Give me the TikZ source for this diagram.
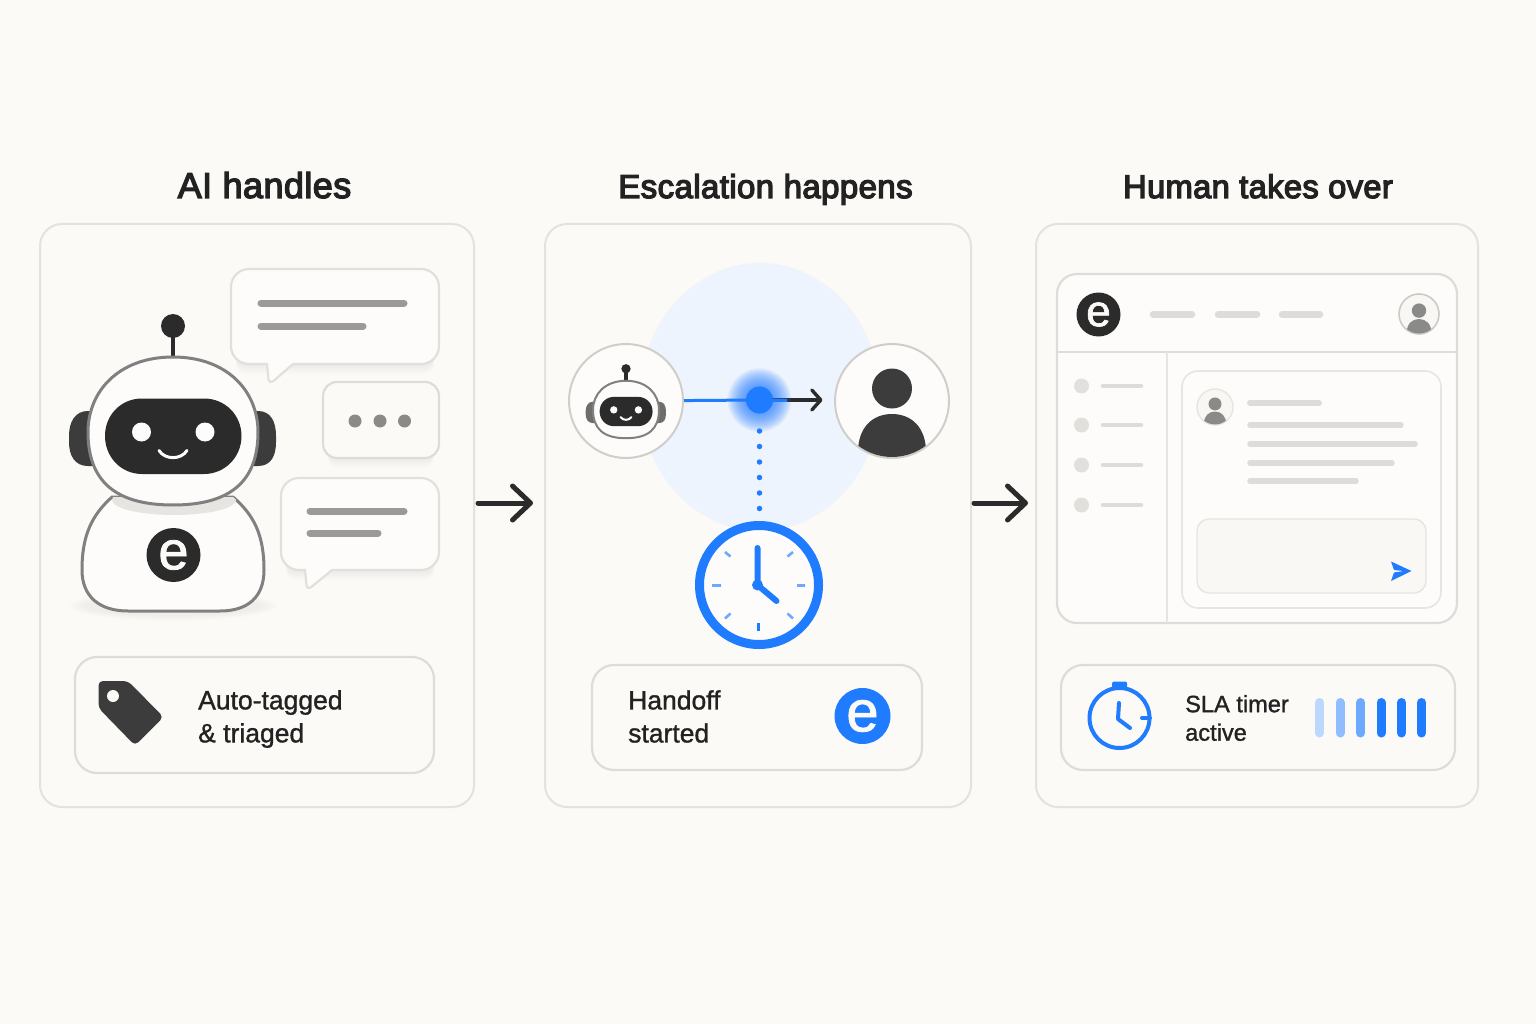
\documentclass[tikz,border=0pt]{standalone}
\usepackage{fontspec}
\setmainfont{Liberation Sans}
\newfontfamily\titlefont[LetterSpace=1.2]{Liberation Sans}
\newcommand{\heft}[2]{\special{pdf:code q 2 Tr #1 w}#2\special{pdf:code Q}}
\usetikzlibrary{arrows.meta,calc}
\definecolor{bg}{HTML}{FBFAF6}
\definecolor{edge}{HTML}{E3E2DE}
\definecolor{soft}{HTML}{DDDCD8}
\definecolor{ink}{HTML}{2B2B2B}
\definecolor{textink}{HTML}{222222}
\definecolor{ink2}{HTML}{3C3C3C}
\definecolor{linegray}{HTML}{9A9A98}
\definecolor{dotgray}{HTML}{8A8A88}
\definecolor{robotline}{HTML}{808080}
\definecolor{blue}{HTML}{1F7CFF}
\definecolor{halo}{HTML}{EEF4FD}
\definecolor{paper}{HTML}{FDFCFA}
\tikzset{
  x=1pt,y=-1pt,
  panel/.style={rectangle,draw=edge,fill=bg,line width=2pt,rounded corners=22pt,inner sep=0pt},
  tagbox/.style={rectangle,draw=soft,fill=bg,line width=2.2pt,rounded corners=22pt,inner sep=0pt},
  title/.style={anchor=base,text=textink},
  caption/.style={anchor=west,align=left,text=textink,inner sep=0pt},
  logo/.style={circle,inner sep=0pt,text=bg},
  ring/.style={circle,draw=#1,fill=paper,line width=2pt,inner sep=0pt},
  bubble/.style={draw=#1,fill=paper,line width=2.2pt},
  bar/.style={line cap=round,line width=7pt,linegray},
  pill/.style={line cap=round,line width=#1,soft},
  flow/.style={line width=5pt,ink,line cap=round,-{Straight Barb[length=18pt,width=34pt,line width=5pt,round]}},
}
\newcommand{\robothead}[2]{%
  \fill[ink] (173,326) circle (12);
  \draw[ink,line width=#1*1.6pt] (173,335) -- (173,358);
  \fill[#2] (100,411) -- (88,411) .. controls (75,411) and (69,422) .. (69,436) -- (69,442) .. controls (69,456) and (75,466) .. (88,466) -- (100,466) -- cycle;
  \fill[#2] (246,411) -- (258,411) .. controls (271,411) and (276,422) .. (276,436) -- (276,442) .. controls (276,456) and (271,466) .. (258,466) -- (246,466) -- cycle;
  \draw[robotline,fill=paper,line width=#1*1pt] (173,357) .. controls (228,357) and (258,392) .. (258,432) .. controls (258,480) and (232,505) .. (173,505) .. controls (114,505) and (88,480) .. (88,432) .. controls (88,392) and (118,357) .. (173,357) -- cycle;
  \fill[ink] (142,398.5) -- (204,398.5) .. controls (225,398.5) and (241.5,415) .. (241.5,436) .. controls (241.5,457) and (225,474) .. (204,474) -- (142,474) .. controls (121,474) and (105,457) .. (105,436) .. controls (105,415) and (121,398.5) .. (142,398.5) -- cycle;
  \fill[paper] (141.5,432) circle (9.5) (205,432) circle (9.5);
  \draw[paper,line width=#1*1pt,line cap=round] (159,450.5) .. controls (165,460) and (181,460) .. (187,450.5);
}
\newcommand{\avatar}[4]{% x y radius colour
  \fill[#4] (#1,#2-0.17*#3) circle (0.36*#3);
  \begin{scope}
    \clip (#1,#2) circle (#3-0.5);
    \fill[#4] (#1-0.62*#3,#2+0.95*#3) .. controls (#1-0.62*#3,#2+0.5*#3) and (#1-0.35*#3,#2+0.25*#3) .. (#1,#2+0.25*#3) .. controls (#1+0.35*#3,#2+0.25*#3) and (#1+0.62*#3,#2+0.5*#3) .. (#1+0.62*#3,#2+0.95*#3) -- (#1+0.62*#3,#2+#3+2) -- (#1-0.62*#3,#2+#3+2) -- cycle;
  \end{scope}
}
% x1 y1 x2 y2 tailRight tipx tipy tailLeft
\newcommand{\speech}[8]{%
  (#1+18,#2) -- (#3-18,#2) .. controls (#3-8,#2) and (#3,#2+8) .. (#3,#2+18) -- (#3,#4-18) .. controls (#3,#4-8) and (#3-8,#4) .. (#3-18,#4) -- (#5,#4) -- (#6+2,#7-1.5) .. controls (#6,#7+0.5) and (#6-3,#7+0.5) .. (#6-3.5,#7-2.5) -- (#8,#4) -- (#1+18,#4) .. controls (#1+8,#4) and (#1,#4-8) .. (#1,#4-18) -- (#1,#2+18) .. controls (#1,#2+8) and (#1+8,#2) .. (#1+18,#2) -- cycle}
\newcommand{\softshadow}[4]{%
  \foreach \d in {2,4,6,8,10}
    \fill[black,opacity=.012,rounded corners=10pt] (#1+5,#4-20) rectangle (#3-5,#4+\d);
}
\begin{document}
\begin{tikzpicture}
\useasboundingbox (0,0) rectangle (1536,1024);
\fill[bg] (0,0) rectangle (1536,1024);

% titles
\node[title,font=\titlefont\fontsize{36}{40}\selectfont] (t1) at (264.5,198) {\heft{1.3}{AI handles}};
\node[title,font=\titlefont\fontsize{33}{40}\selectfont] (t2) at (765.5,198) {\heft{1.3}{Escalation happens}};
\node[title,font=\titlefont\fontsize{32.6}{40}\selectfont] (t3) at (1258,198) {\heft{1.3}{Human takes over}};

% panels
\node[panel,minimum width=434pt,minimum height=583pt] (p1) at (257,515.5) {};
\node[panel,minimum width=426pt,minimum height=583pt] (p2) at (758,515.5) {};
\node[panel,minimum width=442pt,minimum height=583pt] (p3) at (1257,515.5) {};

% arrows between panels
\coordinate (a1s) at ($(p1.east)+(3,-12.5)$);
\coordinate (a1e) at ($(p2.west)+(-11,-12.5)$);
\coordinate (a2s) at ($(p2.east)+(2,-12.5)$);
\coordinate (a2e) at ($(p3.west)+(-7,-12.5)$);
\draw[flow] (a1s) -- (a1e);
\draw[flow] (a2s) -- (a2e);

% --- panel 1: robot
\foreach \k in {0,1,2,3,4,5}
  \fill[black,opacity=.007] (173,606) ellipse [x radius=104-3*\k,y radius=15-\k];
\def\bodypath{(112,497) .. controls (92,515) and (82,535) .. (82,570) .. controls (82,597) and (100,611) .. (128,611) -- (220,611) .. controls (248,611) and (264,597) .. (264,570) .. controls (264,535) and (254,515) .. (233,497) -- cycle}
\draw[robotline,fill=paper,line width=3pt] \bodypath;
\begin{scope}
  \clip \bodypath;
  \fill[soft!70!paper] (174,500) ellipse [x radius=62,y radius=15];
\end{scope}
\robothead{3}{ink2}
\node[logo,fill=ink,minimum size=54pt,font=\fontsize{54}{54}\selectfont] (lg1) at (173.5,555) {\heft{.8}{e}};

% speech bubbles
\softshadow{231}{269}{439}{364}
\softshadow{323}{382}{439}{458}
\softshadow{281}{478}{439}{570}
\draw[bubble=soft!85!bg] \speech{231}{269}{439}{364}{293}{272}{382}{267};
\draw[bar] (261,303) -- (404,303);
\draw[bar] (261,326) -- (363,326);
\node[rectangle,draw=soft,fill=bg,line width=2.2pt,rounded corners=14pt,minimum width=116pt,minimum height=76pt,inner sep=0pt] (b2) at (381,420) {};
\fill[dotgray] (355,421) circle (6.5) (380,421) circle (6.5) (404.5,421) circle (6.5);
\draw[bubble=soft!85!bg] \speech{281}{478}{439}{570}{332}{310}{588}{305};
\draw[bar] (310,511) -- (404,511);
\draw[bar] (310,533) -- (378,533);

% tag box
\node[tagbox,minimum width=359pt,minimum height=116pt] (tb1) at (254.5,715) {};
\fill[ink2,rounded corners=4.5pt] (98.5,681) -- (128,681) -- (163.5,717) -- (135,745.5) -- (98.5,708) -- cycle;
\fill[bg] (113,696) circle (6);
\node[caption,font=\fontsize{26.5}{33}\selectfont] (c1) at (198,719) {\heft{.3}{Auto-tagged}\\\heft{.3}{\& triaged}};

% --- panel 2
\fill[halo] (760,397) ellipse [x radius=120,y radius=134];
\node[ring=soft!85!robotline,minimum size=114pt] (rb) at (626,401) {};
\node[ring=soft!85!robotline,minimum size=114pt] (hm) at (892,401) {};
\begin{scope}[shift={(626,409.5)},scale=.388,shift={(-173,-431)}]
  \robothead{2}{ink2!75!white}
\end{scope}
\fill[ink2] (892,388.5) circle (20);
\begin{scope}
  \clip (892,401) circle (56);
  \fill[ink2] (858,452) .. controls (858,428) and (872,414) .. (892,414) .. controls (912,414) and (926,428) .. (926,452) -- (926,470) -- (858,470) -- cycle;
\end{scope}
\node[circle,fill=blue,inner sep=0pt,minimum size=27pt] (hub) at (759.5,400) {};
\draw[blue,line width=3pt] (rb) -- (hub);
\coordinate (tip) at ($(hm.west)+(-11.5,-1)$);
\draw[ink,line width=3.4pt,line cap=round,-{Straight Barb[length=9pt,width=20pt,line width=3.4pt,round]}] (hub) -- (tip);
\draw[blue,line width=3pt] (hub.center) -- (787,400);
\foreach \r in {32,31,...,14}
  \fill[blue,opacity=.055] (hub.center) circle (\r);
\fill[blue] (hub.center) circle (13);
\node[circle,draw=blue,fill=paper,line width=9pt,minimum size=119pt,inner sep=0pt] (clk) at (759,585) {};
\draw[blue,line width=5.5pt,line cap=round,dash pattern=on 0pt off 15.5pt] (759.5,431) -- (759.5,511);
\draw[blue!65!white,line width=2.6pt]
  (712,585.5) -- (721,585.5) (797,585.5) -- (805,585.5)
  (725,552) -- (730.5,556.5) (793,552) -- (787.5,556.5)
  (725,618.5) -- (730.5,613.5) (793,618.5) -- (787.5,613.5);
\draw[blue,line width=2.6pt] (758.5,623) -- (758.5,631);
\draw[blue,line width=6pt,line cap=round,line join=round] (757.5,548) -- (757.5,585) -- (776.5,601);
\fill[blue] (757.5,585) circle (5.5);

\node[tagbox,minimum width=330pt,minimum height=105pt] (tb2) at (757,717.5) {};
\node[caption,font=\fontsize{26.5}{33}\selectfont] (c2) at (628,716.5) {\heft{.3}{Handoff}\\\heft{.3}{started}};
\node[logo,fill=blue,minimum size=56pt,font=\fontsize{58}{58}\selectfont] (lg2) at (862.5,716) {\heft{.8}{e}};

% --- panel 3
\node[rectangle,draw=soft,fill=paper,line width=2.2pt,rounded corners=20pt,minimum width=400pt,minimum height=349pt,inner sep=0pt] (win) at (1257,448.5) {};
\draw[soft,line width=2pt] (1057,352) -- (1457,352);
\draw[soft!70!paper,line width=1.6pt] (1167,352) -- (1167,623);
\node[logo,fill=ink,minimum size=44pt,font=\fontsize{44}{44}\selectfont] (lg3) at (1098.5,314.5) {\heft{.7}{e}};
\draw[pill=6.5pt] (1153,314.5) -- (1192,314.5);
\draw[pill=6.5pt] (1218,314.5) -- (1257,314.5);
\draw[pill=6.5pt] (1282,314.5) -- (1320,314.5);
\node[circle,draw=soft!80!robotline,fill=bg!90!soft,line width=1.6pt,minimum size=40pt,inner sep=0pt] (av1) at (1419,314) {};
\avatar{1419}{314}{20}{dotgray}
\foreach \yy in {386,425,465,505} {
  \fill[soft!85!bg] (1081.5,\yy) circle (7.5);
  \draw[pill=4.5pt] (1103,\yy) -- (1141,\yy);
}
\node[rectangle,draw=soft!70!bg,fill=paper,line width=1.6pt,rounded corners=16pt,minimum width=259pt,minimum height=237pt,inner sep=0pt] (card) at (1311.5,489.5) {};
\node[circle,draw=soft!70!bg,fill=bg!90!soft,line width=1.4pt,minimum size=36pt,inner sep=0pt] (av2) at (1215,407) {};
\avatar{1215}{407}{18}{dotgray}
\draw[pill=6pt] (1250,403) -- (1319,403);
\draw[pill=5.5pt] (1250,425) -- (1401,425);
\draw[pill=5.5pt] (1250,444) -- (1415,444);
\draw[pill=5.5pt] (1250,463) -- (1392,463);
\draw[pill=5.5pt] (1250,481) -- (1356,481);
\node[rectangle,draw=soft!70!bg,fill=bg!92!soft,line width=1.4pt,rounded corners=12pt,minimum width=229pt,minimum height=74pt,inner sep=0pt] (inp) at (1311.5,556) {};
\fill[blue,rounded corners=.5pt] (1391,561.5) -- (1411.5,571) -- (1391,581) -- (1394,572.5) -- (1404,571) -- (1394,570) -- cycle;

\node[tagbox,minimum width=394pt,minimum height=105pt] (tb3) at (1258,717.5) {};
\fill[blue,rounded corners=1.5pt] (1112,681.5) rectangle (1127,688);
\draw[blue,line width=4pt] (1119.5,718) circle (30);
\draw[blue,line width=4pt,line cap=round] (1142,718) -- (1150,718);
\draw[blue,line width=4pt,line cap=round,line join=round] (1119,703) -- (1118,719) -- (1130,728);
\node[caption,font=\fontsize{23.6}{28.5}\selectfont] (c3) at (1185,718) {\heft{.3}{SLA timer}\\\heft{.3}{active}};
\foreach \x/\c in {1319.5/30,1340/50,1360.5/65,1381/100,1401.5/100,1421.5/100}
  \draw[blue!\c!white,line width=9pt,line cap=round] (\x,702.5) -- (\x,733);
\end{tikzpicture}
\end{document}
